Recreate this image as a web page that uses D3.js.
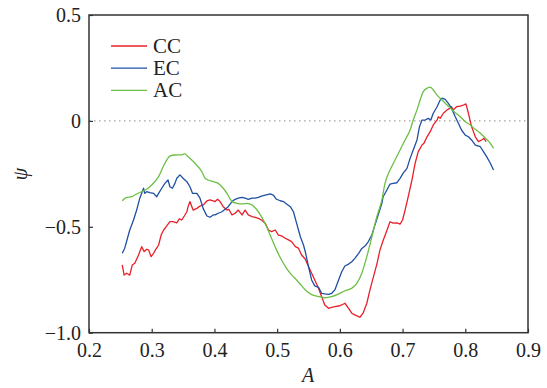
<!DOCTYPE html>
<html><head><meta charset="utf-8">
<script src="https://cdn.jsdelivr.net/npm/d3@7"></script>
<style>body{margin:0;background:#fff} svg{display:block} text{font-family:"Liberation Serif","Times New Roman",Times,serif}</style>
</head><body>
<svg id="c" width="547" height="388"></svg>
<script>
const xTicks = [0.2,0.3,0.4,0.5,0.6,0.7,0.8,0.9];
const yTicks = [0.5,0,-0.5,-1.0];
const yTickLabels = ["0.5","0","\u22120.5","\u22121.0"];
const seriesNames = ["CC","EC","AC"];
const seriesColors = ["#e8202a","#1f4fa3","#6cbf45"];

const cc = [[0.253,-0.680],[0.256,-0.728],[0.260,-0.719],[0.265,-0.728],[0.269,-0.680],[0.273,-0.672],[0.279,-0.633],[0.284,-0.594],[0.288,-0.617],[0.292,-0.606],[0.295,-0.609],[0.299,-0.641],[0.303,-0.625],[0.306,-0.609],[0.311,-0.586],[0.315,-0.539],[0.319,-0.515],[0.324,-0.496],[0.329,-0.476],[0.334,-0.476],[0.340,-0.481],[0.344,-0.463],[0.348,-0.468],[0.352,-0.449],[0.356,-0.429],[0.358,-0.405],[0.361,-0.381],[0.364,-0.405],[0.366,-0.421],[0.372,-0.413],[0.377,-0.402],[0.382,-0.397],[0.388,-0.378],[0.393,-0.373],[0.398,-0.378],[0.401,-0.381],[0.405,-0.370],[0.409,-0.381],[0.414,-0.405],[0.420,-0.421],[0.423,-0.417],[0.428,-0.444],[0.433,-0.436],[0.438,-0.421],[0.444,-0.444],[0.449,-0.421],[0.454,-0.444],[0.460,-0.452],[0.465,-0.455],[0.470,-0.460],[0.475,-0.468],[0.481,-0.483],[0.486,-0.515],[0.491,-0.523],[0.497,-0.515],[0.502,-0.539],[0.507,-0.543],[0.513,-0.554],[0.518,-0.562],[0.523,-0.570],[0.529,-0.594],[0.534,-0.601],[0.539,-0.633],[0.545,-0.653],[0.550,-0.688],[0.555,-0.719],[0.560,-0.751],[0.566,-0.790],[0.571,-0.830],[0.576,-0.869],[0.582,-0.885],[0.587,-0.880],[0.592,-0.877],[0.598,-0.874],[0.603,-0.869],[0.608,-0.861],[0.614,-0.885],[0.619,-0.908],[0.624,-0.916],[0.630,-0.924],[0.632,-0.927],[0.637,-0.908],[0.643,-0.861],[0.648,-0.798],[0.653,-0.742],[0.659,-0.676],[0.664,-0.609],[0.669,-0.565],[0.675,-0.517],[0.680,-0.476],[0.685,-0.483],[0.691,-0.481],[0.696,-0.487],[0.700,-0.468],[0.704,-0.421],[0.709,-0.358],[0.715,-0.279],[0.720,-0.200],[0.725,-0.145],[0.731,-0.114],[0.734,-0.106],[0.739,-0.075],[0.744,-0.051],[0.749,-0.019],[0.755,0.004],[0.757,0.020],[0.760,0.012],[0.765,0.036],[0.771,0.052],[0.776,0.060],[0.778,0.067],[0.781,0.052],[0.786,0.067],[0.792,0.070],[0.797,0.075],[0.801,0.080],[0.805,0.036],[0.810,-0.027],[0.816,-0.075],[0.821,-0.098],[0.826,-0.090],[0.830,-0.082],[0.833,-0.098]];

const ec = [[0.253,-0.625],[0.257,-0.601],[0.262,-0.547],[0.265,-0.515],[0.271,-0.468],[0.276,-0.421],[0.281,-0.365],[0.287,-0.318],[0.289,-0.342],[0.292,-0.334],[0.297,-0.339],[0.303,-0.342],[0.308,-0.358],[0.311,-0.342],[0.316,-0.318],[0.321,-0.295],[0.326,-0.279],[0.329,-0.311],[0.333,-0.318],[0.337,-0.295],[0.340,-0.271],[0.345,-0.255],[0.350,-0.271],[0.356,-0.287],[0.361,-0.311],[0.365,-0.342],[0.372,-0.342],[0.377,-0.365],[0.382,-0.413],[0.388,-0.449],[0.393,-0.455],[0.398,-0.444],[0.401,-0.444],[0.406,-0.436],[0.412,-0.429],[0.417,-0.417],[0.422,-0.405],[0.428,-0.381],[0.433,-0.370],[0.438,-0.365],[0.444,-0.361],[0.449,-0.365],[0.454,-0.370],[0.460,-0.365],[0.465,-0.365],[0.470,-0.361],[0.475,-0.355],[0.481,-0.350],[0.489,-0.345],[0.494,-0.350],[0.499,-0.370],[0.505,-0.377],[0.510,-0.381],[0.515,-0.392],[0.521,-0.405],[0.526,-0.429],[0.531,-0.483],[0.537,-0.547],[0.542,-0.586],[0.545,-0.619],[0.550,-0.688],[0.555,-0.751],[0.560,-0.779],[0.566,-0.786],[0.571,-0.814],[0.576,-0.817],[0.582,-0.819],[0.587,-0.814],[0.592,-0.798],[0.598,-0.751],[0.603,-0.712],[0.608,-0.685],[0.614,-0.676],[0.619,-0.665],[0.624,-0.649],[0.630,-0.625],[0.635,-0.602],[0.640,-0.591],[0.645,-0.572],[0.651,-0.539],[0.656,-0.491],[0.661,-0.444],[0.667,-0.389],[0.669,-0.358],[0.675,-0.326],[0.680,-0.298],[0.685,-0.295],[0.691,-0.292],[0.696,-0.271],[0.701,-0.247],[0.707,-0.224],[0.712,-0.177],[0.717,-0.137],[0.723,-0.090],[0.727,-0.027],[0.731,0.004],[0.736,0.004],[0.741,0.012],[0.745,0.004],[0.749,0.036],[0.755,0.067],[0.760,0.099],[0.763,0.107],[0.768,0.102],[0.773,0.083],[0.778,0.060],[0.784,0.020],[0.789,-0.011],[0.794,-0.043],[0.800,-0.067],[0.805,-0.075],[0.810,-0.090],[0.816,-0.114],[0.824,-0.122],[0.829,-0.145],[0.834,-0.169],[0.840,-0.200],[0.845,-0.232]];

const ac = [[0.253,-0.377],[0.260,-0.361],[0.268,-0.358],[0.273,-0.350],[0.284,-0.334],[0.292,-0.323],[0.300,-0.303],[0.311,-0.263],[0.321,-0.200],[0.329,-0.166],[0.337,-0.161],[0.348,-0.160],[0.353,-0.156],[0.358,-0.169],[0.369,-0.200],[0.380,-0.240],[0.385,-0.271],[0.390,-0.279],[0.398,-0.287],[0.406,-0.295],[0.414,-0.318],[0.420,-0.342],[0.428,-0.381],[0.436,-0.389],[0.444,-0.392],[0.452,-0.389],[0.460,-0.397],[0.467,-0.417],[0.475,-0.452],[0.483,-0.499],[0.491,-0.554],[0.499,-0.609],[0.507,-0.657],[0.515,-0.696],[0.523,-0.727],[0.531,-0.751],[0.539,-0.778],[0.545,-0.798],[0.555,-0.820],[0.566,-0.829],[0.576,-0.835],[0.587,-0.830],[0.598,-0.817],[0.608,-0.802],[0.619,-0.790],[0.627,-0.767],[0.635,-0.719],[0.643,-0.641],[0.651,-0.547],[0.659,-0.452],[0.667,-0.373],[0.672,-0.295],[0.680,-0.232],[0.688,-0.185],[0.696,-0.137],[0.704,-0.090],[0.712,-0.043],[0.717,0.004],[0.723,0.052],[0.728,0.099],[0.733,0.138],[0.739,0.154],[0.744,0.159],[0.749,0.146],[0.755,0.122],[0.763,0.099],[0.771,0.075],[0.776,0.061],[0.784,0.039],[0.792,0.020],[0.800,-0.004],[0.808,-0.019],[0.816,-0.040],[0.824,-0.058],[0.832,-0.082],[0.840,-0.106],[0.845,-0.129]];

const seriesData = [cc, ec, ac];

const svg = d3.select("#c");
const L = 89, R = 528, T = 15, B = 332.7;
const x = d3.scaleLinear().domain([0.2,0.9]).range([L,R]);
const y = d3.scaleLinear().domain([-1,0.5]).range([B,T]);

// zero dotted line
svg.append("line").attr("x1",L).attr("x2",R).attr("y1",y(0)).attr("y2",y(0))
  .attr("stroke","#8a8a8a").attr("stroke-width",1).attr("stroke-dasharray","1.5,3.5");

// series
seriesData.forEach((d,i)=>{
  const ln = d3.line().x(p=>x(p[0])).y(p=>y(p[1]));
  if (i===2) ln.curve(d3.curveMonotoneX);
  svg.append("path").datum(d).attr("d",ln).attr("fill","none")
    .attr("stroke",seriesColors[i]).attr("stroke-width",1.3).attr("stroke-linejoin","round");
});

// axes
const gx = svg.append("g").attr("transform",`translate(0,${B})`)
  .call(d3.axisBottom(x).tickValues(xTicks).tickFormat(d3.format(".1f")).tickSizeInner(-4).tickSizeOuter(0).tickPadding(10));
const gy = svg.append("g").attr("transform",`translate(${L},0)`)
  .call(d3.axisLeft(y).tickValues(yTicks).tickFormat((d,i)=>yTickLabels[i]).tickSizeInner(-4).tickSizeOuter(0).tickPadding(8));
[gx,gy].forEach(g=>{
  g.attr("font-family",null).attr("font-size",null);
  g.select(".domain").remove();
  g.selectAll(".tick line").attr("stroke","#333").attr("stroke-width",1.2);
  g.selectAll(".tick text").style("font-size","20px").attr("fill","#222");
});

// frame
svg.append("rect").attr("x",L).attr("y",T).attr("width",R-L).attr("height",B-T)
  .attr("fill","none").attr("stroke","#333").attr("stroke-width",1.5);

// axis titles
svg.append("text").attr("x",308).attr("y",382).attr("text-anchor","middle")
  .style("font-style","italic").style("font-size","20px").attr("fill","#222").text("A");
svg.append("text").attr("transform","translate(27,174) rotate(-90)").attr("text-anchor","middle")
  .style("font-style","italic").style("font-size","20px").attr("fill","#222").text("\u03C8");

// legend
seriesNames.forEach((n,i)=>{
  const ly = 46 + i*22.2;
  svg.append("line").attr("x1",111).attr("x2",147).attr("y1",ly).attr("y2",ly)
    .attr("stroke",seriesColors[i]).attr("stroke-width",1.3);
  svg.append("text").attr("x",153).attr("y",ly+7).style("font-size","21px")
    .attr("fill","#222").text(n);
});
</script>
</body></html>
